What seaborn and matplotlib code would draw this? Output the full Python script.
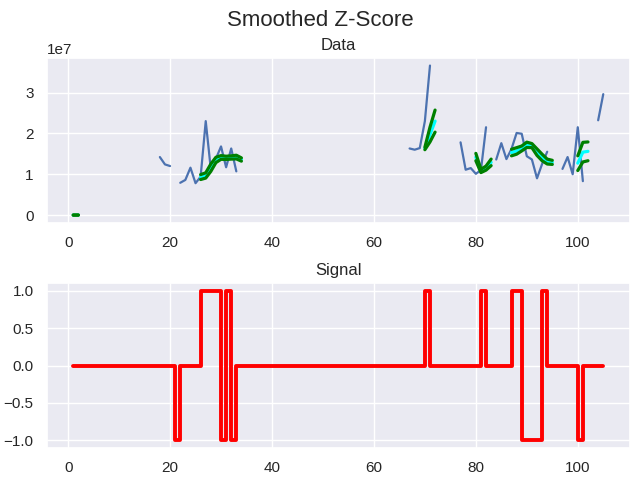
import numpy as np
import matplotlib
matplotlib.use("Agg")
import matplotlib.pyplot as plt
import seaborn as sns

nan = np.nan

# x positions 1..105, values in units of 1e7
x = np.arange(1, 106)

y = ([0.0, 0.0] + [nan] * 15
     + [1.42, 1.24, 1.20] + [nan]
     + [0.79, 0.86, 1.16, 0.78, 0.94, 2.30, 1.12, 1.38, 1.68, 1.17, 1.63, 1.07]
     + [nan] * 33
     + [1.63, 1.60, 1.64, 2.30, 3.66] + [nan] * 5
     + [1.78, 1.11, 1.15, 1.01, 1.10, 2.15] + [nan]
     + [1.36, 1.76, 1.37, 1.62, 2.01, 1.99, 1.44, 1.36, 0.90, 1.25, 1.55]
     + [nan] * 2
     + [1.13, 1.42, 1.00, 2.15, 0.83] + [nan] * 2
     + [2.32, 2.96])

avg_filter = ([0.0, 0.0] + [nan] * 23
              + [0.93, 0.97, 1.16, 1.35, 1.41, 1.40, 1.41, 1.42, 1.36]
              + [nan] * 35
              + [1.63, 1.97, 2.30] + [nan] * 7
              + [1.42, 1.08, 1.15, 1.29] + [nan] * 3
              + [1.53, 1.57, 1.63, 1.72, 1.70, 1.54, 1.41, 1.31, 1.29]
              + [nan] * 4
              + [1.27, 1.54, 1.56] + [nan] * 3)

band = ([0.0, 0.0] + [nan] * 23
        + [0.06, 0.065, 0.09, 0.065, 0.045, 0.04, 0.04, 0.045, 0.04]
        + [nan] * 35
        + [0.03, 0.18, 0.27] + [nan] * 7
        + [0.09, 0.04, 0.05, 0.08] + [nan] * 3
        + [0.08, 0.08, 0.06, 0.065, 0.05, 0.08, 0.08, 0.06, 0.05]
        + [nan] * 4
        + [0.18, 0.24, 0.23] + [nan] * 3)

signals = ([0] * 21 + [-1] + [0] * 4 + [1] * 4 + [-1, 1, -1]
           + [0] * 37 + [1] + [0] * 10 + [1] + [0] * 5
           + [1, 1] + [-1] * 4 + [1] + [0] * 6 + [-1] + [0] * 4)

y = np.array(y) * 1e7
avg_filter = np.array(avg_filter) * 1e7
band = np.array(band) * 1e7

sns.set_theme()
plt.rcParams["font.family"] = ["Liberation Sans", "DejaVu Sans"]

fig, (ax1, ax2) = plt.subplots(2, 1, figsize=(6.4, 4.8), dpi=100)
fig.subplots_adjust(left=0.073, right=0.984, top=0.879, bottom=0.067, hspace=0.37)

ax1.plot(x, y, lw=1.6)
ax1.plot(x, avg_filter, color="cyan", lw=2.3)
ax1.plot(x, avg_filter + band, color="green", lw=2.3)
ax1.plot(x, avg_filter - band, color="green", lw=2.3)
ax1.set_title("Data")

sns.lineplot(x=x, y=signals, ax=ax2, color="red", lw=2.8,
             drawstyle="steps-pre", errorbar=None)
ax2.set_title("Signal")

fig.suptitle("Smoothed Z-Score", fontsize=16)
fig.savefig("out.png", dpi=100)
